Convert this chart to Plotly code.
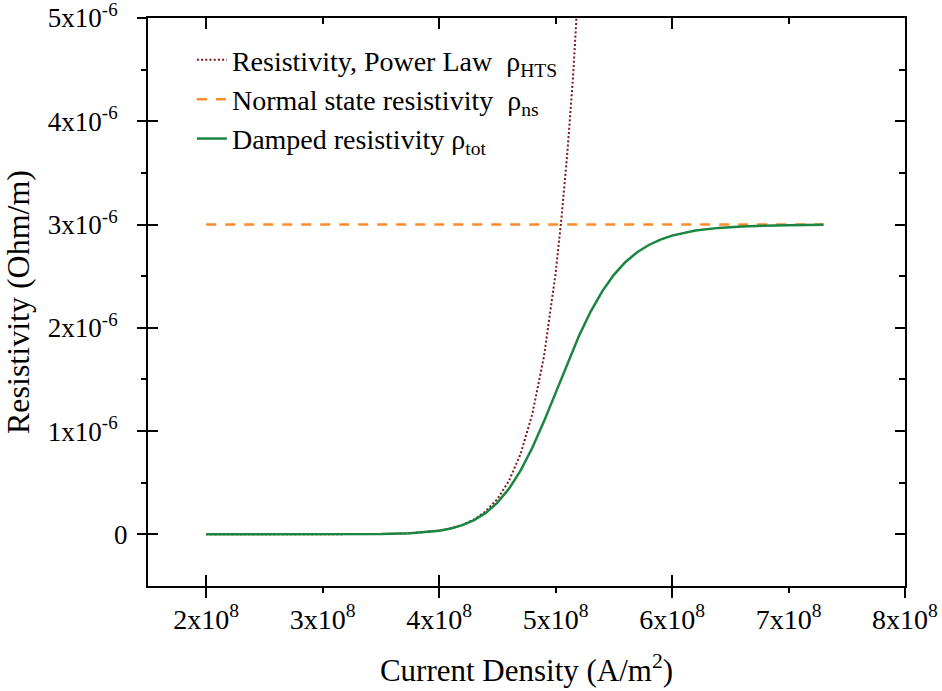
import plotly.graph_objects as go

# ---------------- data ----------------
# Current density (A/m^2) and power-law resistivity (Ohm/m)
j_power = [2.0e8, 2.5e8, 3.0e8, 3.25e8, 3.5e8, 3.75e8, 4.0e8, 4.1e8, 4.2e8, 4.3e8,
           4.4e8, 4.5e8, 4.6e8, 4.7e8, 4.8e8, 4.9e8, 5.0e8, 5.05e8, 5.1e8, 5.15e8,
           5.2e8, 5.25e8]
rho_hts = [0.0, 0.000005e-6, 0.00015e-6, 0.0007e-6, 0.0029e-6, 0.0107e-6, 0.0365e-6,
           0.0583e-6, 0.0922e-6, 0.1441e-6, 0.2230e-6, 0.3420e-6, 0.5194e-6, 0.7815e-6,
           1.1646e-6, 1.7227e-6, 2.528e-6, 3.058e-6, 3.683e-6, 4.437e-6, 5.335e-6, 6.39e-6]

# Normal state resistivity (constant)
j_ns = [2.0e8, 7.3e8]
rho_ns = [3.0e-6, 3.0e-6]

# Damped (total) resistivity
j_tot = [2.0e8, 2.5e8, 3.0e8, 3.25e8, 3.5e8, 3.75e8, 4.0e8, 4.1e8, 4.2e8, 4.3e8,
         4.4e8, 4.5e8, 4.6e8, 4.7e8, 4.8e8, 4.9e8, 5.0e8, 5.1e8, 5.2e8, 5.3e8,
         5.4e8, 5.5e8, 5.6e8, 5.7e8, 5.8e8, 5.9e8, 6.0e8, 6.2e8, 6.4e8, 6.6e8,
         6.8e8, 7.0e8, 7.3e8]
rho_tot = [0.0, 0.000005e-6, 0.00015e-6, 0.0007e-6, 0.0029e-6, 0.0107e-6, 0.0361e-6,
           0.0572e-6, 0.0894e-6, 0.1375e-6, 0.2076e-6, 0.3070e-6, 0.4427e-6, 0.6200e-6,
           0.8389e-6, 1.0943e-6, 1.3719e-6, 1.6533e-6, 1.9202e-6, 2.1553e-6, 2.3534e-6,
           2.5125e-6, 2.6372e-6, 2.7316e-6, 2.8021e-6, 2.8543e-6, 2.8927e-6, 2.9414e-6,
           2.9677e-6, 2.9819e-6, 2.9897e-6, 2.9941e-6, 2.9973e-6]

# Axis ticks
x_tickvals = [2e8, 3e8, 4e8, 5e8, 6e8, 7e8, 8e8]
x_ticktext = ["2x10<sup>8</sup>", "3x10<sup>8</sup>", "4x10<sup>8</sup>", "5x10<sup>8</sup>",
              "6x10<sup>8</sup>", "7x10<sup>8</sup>", "8x10<sup>8</sup>"]
x_major = [2e8, 4e8, 6e8, 8e8]
x_minor = [3e8, 5e8, 7e8]
y_tickvals = [0, 1e-6, 2e-6, 3e-6, 4e-6, 5e-6]
y_ticktext = ["0", "1x10<sup>-6</sup>", "2x10<sup>-6</sup>", "3x10<sup>-6</sup>",
              "4x10<sup>-6</sup>", "5x10<sup>-6</sup>"]
y_minor = [0.5e-6, 1.5e-6, 2.5e-6, 3.5e-6, 4.5e-6]

x_range = [1.5e8, 8e8]
y_range = [-0.5e-6, 5e-6]

FONT = "Liberation Serif"
C_HTS = "#7f1518"
C_NS = "#ff8a2a"
C_TOT = "#1b8542"

fig = go.Figure()
fig.add_trace(go.Scatter(x=j_power, y=rho_hts, mode="lines",
                         name="Resistivity, Power Law  ρ<sub>HTS</sub>",
                         line=dict(color=C_HTS, width=2, dash="2px,2.2px")))
fig.add_trace(go.Scatter(x=j_ns, y=rho_ns, mode="lines",
                         name="Normal state resistivity  ρ<sub>ns</sub>",
                         line=dict(color=C_NS, width=2.5, dash="10px,9px")))
fig.add_trace(go.Scatter(x=j_tot, y=rho_tot, mode="lines",
                         name="Damped resistivity ρ<sub>tot</sub>",
                         line=dict(color=C_TOT, width=2.5)))

# invisible traces that register the helper axes used for tick decoration
for xa, ya in (("x2", "y"), ("x3", "y"), ("x4", "y"),
               ("x", "y2"), ("x", "y3"), ("x", "y4"), ("x", "y5")):
    fig.add_trace(go.Scatter(x=[None], y=[None], xaxis=xa, yaxis=ya,
                             showlegend=False, hoverinfo="skip", mode="lines"))

common = dict(showgrid=False, zeroline=False, tickwidth=2, tickcolor="black",
              automargin=False)
label_axis = dict(showgrid=False, zeroline=False, automargin=False,
                  ticks="outside", tickcolor="rgba(0,0,0,0)", tickwidth=1,
                  ticklabeloverflow="allow")

fig.update_layout(
    width=942, height=691,
    paper_bgcolor="white", plot_bgcolor="white",
    margin=dict(l=148, r=37, t=18, b=105),
    font=dict(family=FONT, color="black", size=27),
    showlegend=True,
    legend=dict(x=0.058, y=0.970, xanchor="left", yanchor="top",
                bgcolor="rgba(0,0,0,0)", font=dict(family=FONT, size=28),
                tracegroupgap=0),
    xaxis=dict(range=x_range, tickmode="array", tickvals=x_tickvals, ticktext=x_ticktext,
               ticklen=7, tickfont=dict(family=FONT, size=28),
               showline=True, linewidth=2, linecolor="black", mirror=True,
               title=dict(text="Current Density (A/m<sup>2</sup>)",
                          font=dict(family=FONT, size=31), standoff=26),
               **label_axis),
    # labels with exponents
    yaxis=dict(range=y_range, tickmode="array", tickvals=y_tickvals[1:],
               ticktext=y_ticktext[1:], ticklen=23, tickfont=dict(family=FONT, size=27),
               showline=True, linewidth=2, linecolor="black", mirror=True,
               title=dict(text="Resistivity (Ohm/m)",
                          font=dict(family=FONT, size=32), standoff=9),
               **label_axis),
    # the plain "0" label
    yaxis5=dict(range=y_range, overlaying="y", anchor="x", side="left",
                tickmode="array", tickvals=y_tickvals[:1], ticktext=y_ticktext[:1],
                ticklen=14, tickfont=dict(family=FONT, size=27), showline=False,
                **label_axis),
    # outside ticks: bottom/left (major + minor)
    xaxis2=dict(range=x_range, overlaying="x", anchor="y", side="bottom",
                tickmode="array", tickvals=x_major, ticks="outside", ticklen=11,
                showticklabels=False, showline=False,
                minor=dict(tickmode="array", tickvals=x_minor, ticks="outside",
                           ticklen=6, tickwidth=2, tickcolor="black"),
                **common),
    yaxis2=dict(range=y_range, overlaying="y", anchor="x", side="left",
                tickmode="array", tickvals=y_tickvals, ticks="outside", ticklen=10,
                showticklabels=False, showline=False,
                minor=dict(tickmode="array", tickvals=y_minor, ticks="outside",
                           ticklen=6, tickwidth=2, tickcolor="black"),
                **common),
    # inside major ticks, mirrored to top/right
    xaxis3=dict(range=x_range, overlaying="x", anchor="y", side="bottom",
                tickmode="array", tickvals=x_major, ticks="inside", ticklen=11,
                mirror="ticks", showticklabels=False, showline=False, **common),
    yaxis3=dict(range=y_range, overlaying="y", anchor="x", side="left",
                tickmode="array", tickvals=y_tickvals, ticks="inside", ticklen=10,
                mirror="ticks", showticklabels=False, showline=False, **common),
    # inside minor ticks on top/right
    xaxis4=dict(range=x_range, overlaying="x", anchor="y", side="top",
                tickmode="array", tickvals=x_minor, ticks="inside", ticklen=6,
                showticklabels=False, showline=False, **common),
    yaxis4=dict(range=y_range, overlaying="y", anchor="x", side="right",
                tickmode="array", tickvals=y_minor, ticks="inside", ticklen=6,
                showticklabels=False, showline=False, **common),
)

# remove the default 8px page margin so the figure fills the window exactly
fig.write_html("out.html", config={"displayModeBar": False},
               post_script="document.body.style.margin='0';")
